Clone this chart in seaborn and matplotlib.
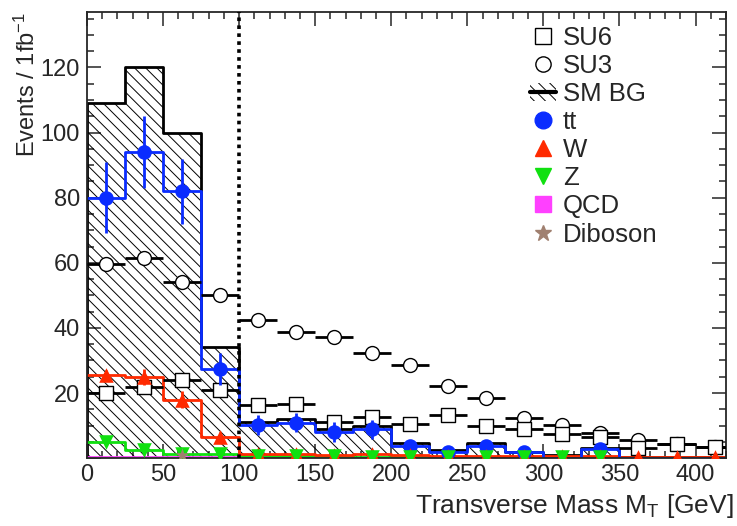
import numpy as np
import pandas as pd
import matplotlib
matplotlib.use("Agg")
import matplotlib.pyplot as plt
from matplotlib.ticker import MultipleLocator, FuncFormatter
from matplotlib.lines import Line2D
from matplotlib.patches import Patch
from matplotlib.legend_handler import HandlerTuple
import seaborn as sns

# ---------------- data ----------------
bin_edges = list(range(0, 450, 25))          # 0 ... 425 GeV, 25 GeV bins
bin_centers = [e + 12.5 for e in bin_edges[:-1]]

sm_bg = [109, 120, 100, 34, 11, 12, 9, 10, 4.8, 2.5, 4.5, 2.0, 1.0, 3.0, 0.5, 0.5, 0.4]
tt = [80, 94, 82, 27.4, 10.2, 10.9, 8.1, 8.8, 3.7, 1.8, 3.7, 1.8, 0, 2.7, 0, 0, 0]
tt_err = [11, 11, 10, 5, 3, 3, 3, 3, 2, 1.5, 2, 1.5, 0, 1.5, 0, 0, 0]
w_bg = [25.5, 25, 18, 6.5, 1.2, 1.2, 1.0, 1.2, 1.0, 0.8, 0.6, 0.6, 0.6, 0.6, 0.3, 0.3, 0.3]
w_err = [1.5, 2.5, 2.5, 1.5, 0.5, 0.5, 0.5, 0.5, 0.5, 0.4, 0.3, 0.3, 0.3, 0.3, 0, 0, 0]
z_bg = [5.0, 2.4, 1.3, 1.3, 0.7, 0.7, 0.7, 0.5, 0.4, 0.3, 0.3, 0.3, 0.5, 0.4, 0, 0, 0]
qcd = [0.2, 0.2, 0.2, 0.2, 0, 0, 0, 0, 0, 0, 0, 0, 0, 0, 0, 0, 0]
diboson = [0, 0, 1.0, 0, 0, 0, 0, 0, 0, 0, 0, 0, 0, 0, 0, 0, 0]
su6 = [20, 22, 24, 21, 16.3, 16.5, 11.2, 12.5, 10.4, 13.2, 10, 9, 7.5, 6.6, 3.0, 4.2, 3.3]
su3 = [59.5, 61.5, 54, 50, 42.3, 38.6, 37.2, 32.4, 28.5, 22.2, 18.5, 12.3, 10.3, 7.6, 5.5, 4.2, 3.4]

cut_value = 100
x_ticks = [0, 50, 100, 150, 200, 250, 300, 350, 400]
y_ticks = [0, 20, 40, 60, 80, 100, 120]

# ---------------- style ----------------
sns.set_style("ticks")
plt.rcParams["font.family"] = ["Liberation Sans", "DejaVu Sans"]
plt.rcParams["mathtext.fontset"] = "custom"
plt.rcParams["mathtext.rm"] = "Liberation Sans"
plt.rcParams["mathtext.it"] = "Liberation Sans:italic"
plt.rcParams["hatch.linewidth"] = 0.7

BLUE = "#0a2cff"
RED = "#ff2a00"
GREEN = "#10e010"
MAGENTA = "#ff40ff"
BROWN = "#a08070"
HATCH = "\\\\\\"

fig = plt.figure(figsize=(7.37, 5.26), dpi=100)
ax = fig.add_axes([0.118, 0.129, 0.867, 0.848])

df = pd.DataFrame({
    "x": bin_centers, "sm": sm_bg, "tt": tt, "tt_err": tt_err, "w": w_bg, "w_err": w_err,
    "z": z_bg, "qcd": qcd, "dib": diboson, "su6": su6, "su3": su3,
})

# SM background: hatched histogram
n_before = len(ax.collections)
sns.histplot(data=df, x="x", weights="sm", bins=bin_edges, element="step", fill=True,
             color="black", linewidth=2.0, alpha=1, ax=ax, zorder=1)
for coll in ax.collections[n_before:]:
    coll.set_facecolor("none")
    coll.set_edgecolor("black")
    coll.set_hatch(HATCH)

# individual background step lines
for col, c, lw in [("qcd", MAGENTA, 2.0), ("z", GREEN, 2.0), ("w", RED, 2.0), ("tt", BLUE, 2.0)]:
    sns.histplot(data=df, x="x", weights=col, bins=bin_edges, element="step", fill=False,
                 color=c, linewidth=lw, ax=ax, zorder=2)

# cut line
ax.axvline(cut_value, color="black", linestyle=(0, (1, 1.2)), linewidth=2.6, zorder=3)

# signal points with horizontal bin-width bars
for col in ["su3", "su6"]:
    ax.errorbar(df["x"], df[col], xerr=12.5, fmt="none", ecolor="black", elinewidth=2, zorder=4)
sns.scatterplot(data=df, x="x", y="su3", marker="o", s=100, facecolor="white",
                edgecolor="black", linewidth=1.0, ax=ax, zorder=5)
sns.scatterplot(data=df, x="x", y="su6", marker="s", s=100, facecolor="white",
                edgecolor="black", linewidth=1.0, ax=ax, zorder=5)

# background points
dtt = df[df["tt"] > 0]
ax.errorbar(dtt["x"], dtt["tt"], yerr=dtt["tt_err"], fmt="none", ecolor=BLUE, elinewidth=2, zorder=6)
ax.errorbar(df["x"], df["w"], yerr=df["w_err"], fmt="none", ecolor=RED, elinewidth=2,
            linestyle="--", zorder=6)
sns.scatterplot(data=dtt, x="x", y="tt", marker="o", s=110, color=BLUE, edgecolor=BLUE,
                linewidth=0, ax=ax, zorder=7)
sns.scatterplot(data=df, x="x", y="w", marker="^", s=110, color=RED, edgecolor=RED,
                linewidth=0, ax=ax, zorder=7)
dz = df[df["z"] > 0]
sns.scatterplot(data=dz, x="x", y="z", marker="v", s=110, color=GREEN, edgecolor=GREEN,
                linewidth=0, ax=ax, zorder=7)
dd = df[df["dib"] > 0]
sns.scatterplot(data=dd, x="x", y="dib", marker="*", s=110, color=BROWN, edgecolor=BROWN,
                linewidth=0, ax=ax, zorder=7)

# axes
ax.set_xlim(0, 420)
ax.set_ylim(0, 137)
ax.xaxis.set_major_locator(MultipleLocator(50))
ax.xaxis.set_minor_locator(MultipleLocator(10))
ax.set_yticks(y_ticks)
ax.yaxis.set_minor_locator(MultipleLocator(5))
ax.yaxis.set_major_formatter(FuncFormatter(lambda v, p: "" if v == 0 else f"{v:.0f}"))
ax.set_xticks(x_ticks)
ax.tick_params(which="both", direction="in", top=True, right=True, labelsize=17, width=1.1)
ax.tick_params(which="major", length=10)
ax.tick_params(which="minor", length=5)
ax.tick_params(axis="x", which="major", pad=4)
ax.tick_params(axis="y", which="major", pad=5)
for s in ax.spines.values():
    s.set_linewidth(1.3)

ax.set_xlabel("Transverse Mass M$_\\mathrm{T}$ [GeV]", fontsize=19, loc="right")
ax.xaxis.set_label_coords(1.0125, -0.075)
ax.set_ylabel("Events / 1fb$^{\\mathrm{-1}}$", fontsize=17, loc="top")
ax.yaxis.set_label_coords(-0.074, 1.0)

# legend
h_su6 = Line2D([], [], marker="s", ls="none", mfc="white", mec="black", ms=11, mew=1.0)
h_su3 = Line2D([], [], marker="o", ls="none", mfc="white", mec="black", ms=11, mew=1.0)
h_sm = (Patch(facecolor="none", edgecolor="black", hatch=HATCH, linewidth=0),
        Line2D([], [], color="black", lw=3))
h_tt = Line2D([], [], marker="o", ls="none", mfc=BLUE, mec=BLUE, ms=12)
h_w = Line2D([], [], marker="^", ls="none", mfc=RED, mec=RED, ms=12)
h_z = Line2D([], [], marker="v", ls="none", mfc=GREEN, mec=GREEN, ms=12)
h_q = Line2D([], [], marker="s", ls="none", mfc=MAGENTA, mec=MAGENTA, ms=12)
h_d = Line2D([], [], marker="*", ls="none", mfc=BROWN, mec=BROWN, ms=12)
fig.legend([h_su6, h_su3, h_sm, h_tt, h_w, h_z, h_q, h_d],
           ["SU6", "SU3", "SM BG", "tt", "W", "Z", "QCD", "Diboson"],
           handler_map={tuple: HandlerTuple(ndivide=1, pad=0)},
           loc="upper left", bbox_to_anchor=(0.719, 0.951), frameon=False,
           fontsize=18.5, handlelength=1.0, handletextpad=0.28, labelspacing=0.16,
           borderpad=0, borderaxespad=0)

fig.savefig("out.png", dpi=100)
